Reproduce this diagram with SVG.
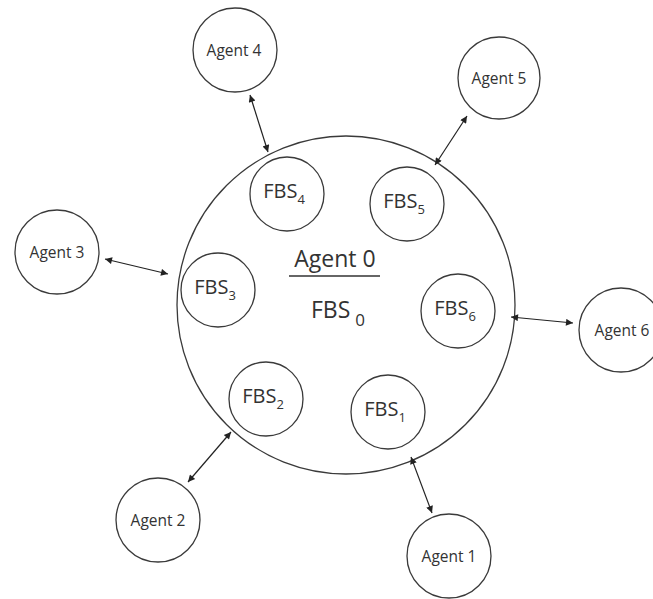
<svg xmlns="http://www.w3.org/2000/svg" width="653" height="599" viewBox="0 0 653 599">
<defs>
<marker id="ah" viewBox="0 0 10 10" refX="10" refY="5" markerWidth="9" markerHeight="7" orient="auto-start-reverse" markerUnits="userSpaceOnUse">
<path d="M0,0 L10,5 L0,10 z" fill="#222"/>
</marker>
<style>
circle{fill:none;stroke:#3a3a3a;stroke-width:1.3}
.ag{font-family:"Open Sans","DejaVu Sans",sans-serif;font-size:15.5px;fill:#333;text-anchor:middle}
.fb{font-family:"Open Sans","DejaVu Sans",sans-serif;font-size:20px;fill:#333;text-anchor:middle}
.big{font-family:"Open Sans","DejaVu Sans",sans-serif;font-size:23px;fill:#333;text-anchor:middle}
.conn line{stroke:#222;stroke-width:1.2;marker-start:url(#ah);marker-end:url(#ah)}
</style>
</defs>
<rect width="653" height="599" fill="#fff"/>
<g id="agent0">
<circle cx="346" cy="305" r="169"/>
<text class="big" x="335" y="267">Agent 0</text>
<line x1="289" y1="276" x2="380" y2="276" stroke="#333" stroke-width="1.5"/>
<text class="big" x="338" y="318">FBS<tspan font-size="17" dx="5" dy="8">0</tspan></text>
</g>
<g id="fbs4"><circle cx="287" cy="194" r="37"/><text class="fb" x="284" y="198">FBS<tspan font-size="13" dy="6">4</tspan></text></g>
<g id="fbs5"><circle cx="407" cy="204" r="37"/><text class="fb" x="404" y="208">FBS<tspan font-size="13" dy="6">5</tspan></text></g>
<g id="fbs3"><circle cx="218" cy="290" r="37"/><text class="fb" x="215" y="294">FBS<tspan font-size="13" dy="6">3</tspan></text></g>
<g id="fbs6"><circle cx="458" cy="311" r="37"/><text class="fb" x="455" y="315">FBS<tspan font-size="13" dy="6">6</tspan></text></g>
<g id="fbs2"><circle cx="266" cy="399" r="37"/><text class="fb" x="263" y="403">FBS<tspan font-size="13" dy="6">2</tspan></text></g>
<g id="fbs1"><circle cx="388" cy="412" r="37"/><text class="fb" x="385" y="416">FBS<tspan font-size="13" dy="6">1</tspan></text></g>
<g id="agent4"><circle cx="235" cy="50" r="42"/><text class="ag" x="234" y="56">Agent 4</text></g>
<g id="agent5"><circle cx="499" cy="78" r="41"/><text class="ag" x="499" y="84">Agent 5</text></g>
<g id="agent3"><circle cx="57" cy="252" r="42"/><text class="ag" x="57" y="258">Agent 3</text></g>
<g id="agent6"><circle cx="621" cy="330" r="42"/><text class="ag" x="622" y="336">Agent 6</text></g>
<g id="agent2"><circle cx="158" cy="520" r="42"/><text class="ag" x="158" y="526">Agent 2</text></g>
<g id="agent1"><circle cx="449" cy="556" r="42"/><text class="ag" x="449" y="562">Agent 1</text></g>
<g class="conn" id="connectors">
<line x1="250" y1="95" x2="268" y2="152"/>
<line x1="467" y1="116" x2="435" y2="165"/>
<line x1="105" y1="259" x2="168" y2="274"/>
<line x1="511" y1="317" x2="573" y2="323"/>
<line x1="188" y1="482" x2="231" y2="432"/>
<line x1="411" y1="457" x2="432" y2="513"/>
</g>
</svg>
